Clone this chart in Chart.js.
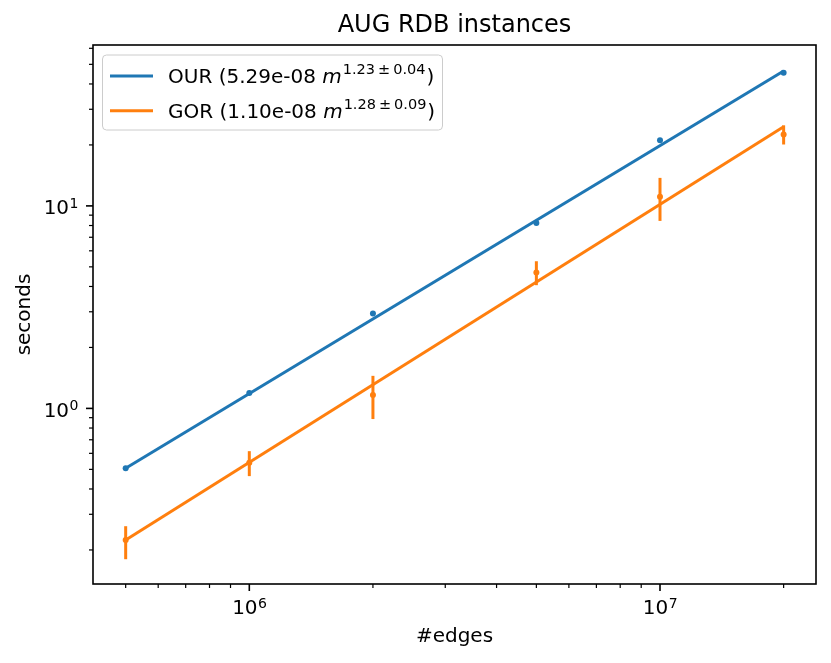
<!DOCTYPE html>
<html>
<head>
<meta charset="utf-8">
<script src="https://cdn.jsdelivr.net/npm/chart.js@4"></script>
<style>
  html, body { margin: 0; padding: 0; background: #fff; }
  #wrap { width: 831px; height: 663px; }
</style>
</head>
<body>
<div id="wrap"><canvas id="c" width="831" height="663"></canvas></div>
<script>
// data (log-log)
const XS      = [5e5, 1e6, 2e6, 5e6, 1e7, 2e7];
const OUR     = [0.506, 1.19, 2.94, 8.24, 21.1, 45.5];
const GOR     = [0.224, 0.539, 1.163, 4.69, 11.08, 22.5];
const GOR_LO  = [0.180, 0.463, 0.886, 4.06, 8.43, 20.1];
const GOR_HI  = [0.262, 0.615, 1.448, 5.33, 13.75, 25.0];
const FIT_X   = [5e5, 2e7];
const OUR_FIT = [0.506, 46.4];
const GOR_FIT = [0.224, 24.6];

// ticks
const X_MAJOR = [1e6, 1e7];
const X_EXP   = ["6", "7"];
const X_MINOR = [5e5, 6e5, 7e5, 8e5, 9e5, 2e6, 3e6, 4e6, 5e6, 6e6, 7e6, 8e6, 9e6, 2e7];
const Y_MAJOR = [1, 10];
const Y_EXP   = ["0", "1"];
const Y_MINOR = [0.2, 0.3, 0.4, 0.5, 0.6, 0.7, 0.8, 0.9, 2, 3, 4, 5, 6, 7, 8, 9, 20, 30, 40, 50, 60];

const TITLE  = "AUG RDB instances";
const XLABEL = "#edges";
const YLABEL = "seconds";
const LEGEND = [
  { name: "OUR", coef: "5.29e-08", exp: ["1.23", "±", "0.04"] },
  { name: "GOR", coef: "1.10e-08", exp: ["1.28", "±", "0.09"] },
];

const BLUE = "#1f77b4", ORANGE = "#ff7f0e";
const FONT = '"DejaVu Sans", sans-serif';

const pts = (xs, ys) => xs.map((x, i) => ({ x, y: ys[i] }));

// ------- rám, ticky, popisky a legenda ---------------------------------
const deco = {
  id: "deco",
  afterDatasetsDraw(chart) {
    const { ctx, scales: { x, y } } = chart;
    // error bars GOR
    ctx.save();
    ctx.strokeStyle = ORANGE; ctx.lineWidth = 3;
    XS.forEach((v, i) => {
      const px = x.getPixelForValue(v);
      ctx.beginPath();
      ctx.moveTo(px, y.getPixelForValue(GOR_LO[i]));
      ctx.lineTo(px, y.getPixelForValue(GOR_HI[i]));
      ctx.stroke();
    });
    ctx.restore();
  },
  afterDraw(chart) {
    const { ctx, chartArea: a, scales: { x, y } } = chart;
    ctx.save();
    ctx.strokeStyle = "#000"; ctx.fillStyle = "#000";

    // frame
    ctx.lineWidth = 1.6;
    ctx.strokeRect(a.left, a.top, a.right - a.left, a.bottom - a.top);

    // ticks
    const tick = (vals, len, w, axis) => {
      ctx.lineWidth = w;
      vals.forEach(v => {
        ctx.beginPath();
        if (axis === "x") {
          const px = x.getPixelForValue(v);
          ctx.moveTo(px, a.bottom); ctx.lineTo(px, a.bottom + len);
        } else {
          const py = y.getPixelForValue(v);
          ctx.moveTo(a.left, py); ctx.lineTo(a.left - len, py);
        }
        ctx.stroke();
      });
    };
    tick(X_MAJOR, 7, 1.6, "x"); tick(X_MINOR, 4, 1.2, "x");
    tick(Y_MAJOR, 7, 1.6, "y"); tick(Y_MINOR, 4, 1.2, "y");

    // tick labels 10^n
    const base = "20px " + FONT, sup = "14px " + FONT;
    const power = (exp, cx, baseline, align) => {
      ctx.font = base; const wb = ctx.measureText("10").width;
      ctx.font = sup;  const ws = ctx.measureText(exp).width;
      const left = align === "center" ? cx - (wb + ws) / 2 : cx - (wb + ws);
      ctx.textAlign = "left"; ctx.textBaseline = "alphabetic";
      ctx.font = base; ctx.fillText("10", left, baseline);
      ctx.font = sup;  ctx.fillText(exp, left + wb + 0.5, baseline - 6.5);
    };
    X_MAJOR.forEach((v, i) => power(X_EXP[i], x.getPixelForValue(v), 614, "center"));
    Y_MAJOR.forEach((v, i) => power(Y_EXP[i], 78, y.getPixelForValue(v) + 8.5, "right"));

    // title + axis labels
    ctx.textAlign = "center"; ctx.textBaseline = "alphabetic";
    ctx.font = "24px " + FONT;
    ctx.fillText(TITLE, (a.left + a.right) / 2, 32);
    ctx.font = "20px " + FONT;
    ctx.fillText(XLABEL, (a.left + a.right) / 2, 642);
    ctx.save();
    ctx.translate(30, (a.top + a.bottom) / 2);
    ctx.rotate(-Math.PI / 2);
    ctx.fillText(YLABEL, 0, 0);
    ctx.restore();

    // legend
    ctx.beginPath();
    ctx.roundRect(102.5, 55, 340, 75, 4);
    ctx.fillStyle = "rgba(255,255,255,0.8)"; ctx.fill();
    ctx.strokeStyle = "#cccccc"; ctx.lineWidth = 1; ctx.stroke();
    const colors = [BLUE, ORANGE];
    LEGEND.forEach((e, i) => {
      const yl = 76 + i * 34.7, yb = 83.3 + i * 34.7;
      ctx.strokeStyle = colors[i]; ctx.lineWidth = 3;
      ctx.beginPath(); ctx.moveTo(110, yl); ctx.lineTo(153, yl); ctx.stroke();
      ctx.fillStyle = "#000"; ctx.textAlign = "left";
      let cx = 168;
      const put = (t, f, dy = 0) => { ctx.font = f; ctx.fillText(t, cx, yb + dy); cx += ctx.measureText(t).width; };
      put(e.name + " (" + e.coef + " ", "20px " + FONT);
      put("m", "oblique 20px " + FONT);
      cx += 1;
      const sf = "14.5px " + FONT;
      put(e.exp[0], sf, -9); cx += 3;
      put(e.exp[1], sf, -9); cx += 3;
      put(e.exp[2], sf, -9);
      cx += 1;
      put(")", "20px " + FONT);
    });
    ctx.restore();
  },
};

const logAxis = (min, max, pos, fit) => ({
  type: "logarithmic", position: pos, min, max,
  grid: { display: false }, border: { display: false },
  ticks: { display: false },
  afterFit: fit,
});

new Chart(document.getElementById("c"), {
  type: "line",
  data: {
    datasets: [
      { data: pts(XS, OUR), showLine: false, pointRadius: 3, pointBackgroundColor: BLUE,
        pointBorderWidth: 0, borderColor: BLUE },
      { data: pts(FIT_X, OUR_FIT), borderColor: BLUE, borderWidth: 3, pointRadius: 0 },
      { data: pts(XS, GOR), showLine: false, pointRadius: 3, pointBackgroundColor: ORANGE,
        pointBorderWidth: 0, borderColor: ORANGE },
      { data: pts(FIT_X, GOR_FIT), borderColor: ORANGE, borderWidth: 3, pointRadius: 0 },
    ],
  },
  options: {
    responsive: false, animation: false,
    layout: { padding: { top: 45, right: 15, left: 0, bottom: 0 } },
    plugins: { legend: { display: false }, tooltip: { enabled: false } },
    scales: {
      x: logAxis(4.163e5, 2.398e7, "bottom", s => { s.height = 79; }),
      y: logAxis(0.1358, 62.3, "left", s => { s.width = 93; }),
    },
  },
  plugins: [deco],
});
</script>
</body>
</html>
